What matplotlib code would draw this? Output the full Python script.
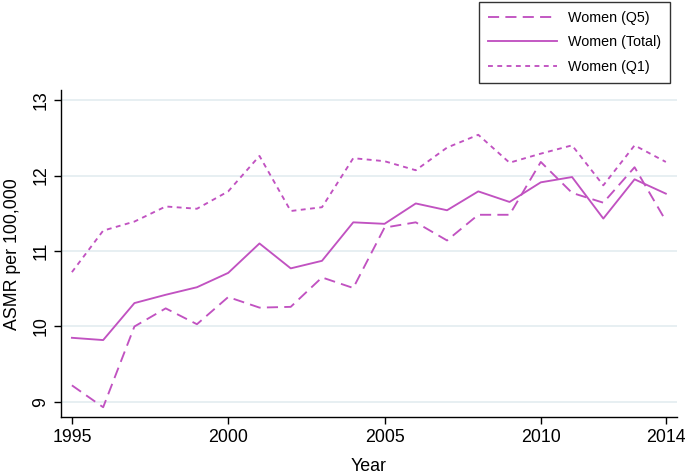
import matplotlib
matplotlib.use('Agg')
import matplotlib.pyplot as plt

plt.rcParams['font.family'] = ['Liberation Sans', 'DejaVu Sans']
plt.rcParams['lines.scale_dashes'] = False

anos = list(range(1995, 2015))
q5 = [9.22, 8.93, 10.00, 10.24, 10.03, 10.39, 10.25, 10.26, 10.65, 10.51,
      11.31, 11.38, 11.14, 11.48, 11.48, 12.18, 11.77, 11.64, 12.11, 11.40]
total = [9.85, 9.82, 10.31, 10.42, 10.52, 10.71, 11.10, 10.77, 10.87, 11.38,
         11.36, 11.63, 11.54, 11.79, 11.65, 11.91, 11.98, 11.43, 11.95, 11.76]
q1 = [10.72, 11.27, 11.39, 11.59, 11.56, 11.79, 12.26, 11.53, 11.58, 12.23,
      12.19, 12.07, 12.37, 12.54, 12.17, 12.29, 12.40, 11.87, 12.40, 12.18]

xticks = [1995, 2000, 2005, 2010, 2014]
yticks = [9, 10, 11, 12, 13]

cor = '#c152c1'

fig = plt.figure(figsize=(6.85, 4.75), dpi=100)
ax = fig.add_axes([0.089, 0.122, 0.899, 0.688])

ax.plot(anos, q5, color=cor, lw=1.35, dashes=(8, 4.5), label='Women (Q5)')
ax.plot(anos, total, color=cor, lw=1.35, label='Women (Total)')
ax.plot(anos, q1, color=cor, lw=1.35, dashes=(3.5, 3.2), label='Women (Q1)')

ax.set_xlim(1994.65, 2014.35)
ax.set_ylim(8.8, 13.13)
ax.set_xticks(xticks)
ax.set_yticks(yticks)
ax.set_yticklabels([str(t) for t in yticks], rotation=90, va='center')
ax.tick_params(labelsize=12.8, length=5, width=1, direction='out', pad=3.5)
ax.grid(axis='y', color='#e3ecf0', lw=1.2)
ax.set_axisbelow(True)

for lado in ['top', 'right']:
    ax.spines[lado].set_visible(False)
for lado in ['left', 'bottom']:
    ax.spines[lado].set_linewidth(1)

ax.set_xlabel('Year', fontsize=12.8, labelpad=9)
ax.set_ylabel('ASMR per 100,000', fontsize=12.8, labelpad=8)

leg = ax.legend(loc='upper right', bbox_to_anchor=(0.9886, 1.27), fontsize=10.3,
                handlelength=4.8, frameon=True, fancybox=False, borderaxespad=0,
                labelspacing=0.75, borderpad=0.6, handletextpad=0.8)
leg.get_frame().set_edgecolor('black')
leg.get_frame().set_linewidth(1)

plt.savefig('out.png', dpi=100)
